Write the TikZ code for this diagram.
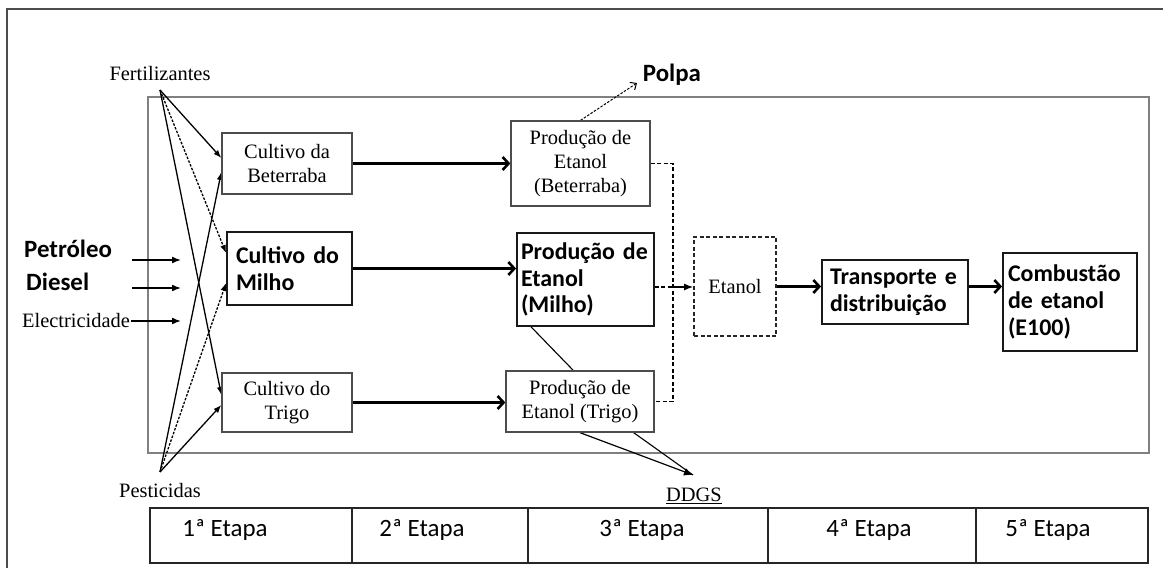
\documentclass[tikz,border=0pt]{standalone}
\usepackage{fontspec}
\setmainfont{Liberation Serif}
\newfontfamily\sansb{Carlito}
\usetikzlibrary{arrows.meta,calc}
\pgfdeclarelayer{background}
\pgfsetlayers{background,main}

\begin{document}
\begin{tikzpicture}[x=1bp,y=-1bp,
  serifbox/.style={draw=black!70, line width=1.3bp, fill=white, align=center,
    inner sep=0pt, text=black, font=\fontsize{20.5}{24}\selectfont},
  boldbox/.style={draw=black!90, line width=1.8bp, fill=white, align=left,
    inner ysep=0pt, font=\sansb\bfseries\fontsize{24}{27}\selectfont},
  seriflbl/.style={inner sep=1bp, text=black, font=\fontsize{20.5}{24}\selectfont},
  boldlbl/.style={inner sep=1bp, font=\sansb\bfseries\fontsize{25}{28}\selectfont},
  etapalbl/.style={inner sep=1bp, font=\sansb\fontsize{25}{28}\selectfont},
  cell/.style={draw=black!85, line width=1.5bp, minimum height=55bp, inner sep=0pt},
  flow/.style={line width=2.6bp, -{Straight Barb[length=6bp,width=13bp]}},
  feed/.style={line width=1.3bp, -{Latex[length=8bp,width=6bp]}},
  supply/.style={line width=1.5bp, -{Latex[length=9bp,width=7bp]}},
  collect/.style={line width=1.5bp, dash pattern=on 4bp off 2.5bp},
  fine/.style={dash pattern=on 2.5bp off 1.5bp},
]
\useasboundingbox (0,0) rectangle (1163,568);

% stage 1: crops
\node[serifbox, minimum width=130bp, minimum height=61bp] (cb) at (287,163.5) {Cultivo da\\Beterraba};
\node[boldbox, text width=107bp, inner xsep=9bp, minimum height=73bp] (cm) at (289.5,268.5) {Cultivo do\\Milho};
\node[serifbox, minimum width=130bp, minimum height=59bp] (ct) at (287,402.5) {Cultivo do\\Trigo};

% stages 2-3: ethanol plants
\node[serifbox, minimum width=139bp, minimum height=85bp] (pb) at (580.5,163.5) {Produção de\\Etanol\\(Beterraba)};
\node[boldbox, text width=129bp, inner xsep=4bp, minimum height=93bp] (pm) at (585.5,279.5) {Produção de\\Etanol\\(Milho)};
\node[serifbox, minimum width=148bp, minimum height=61bp] (pt) at (580,401.5) {Produção de\\Etanol (Trigo)};
\node[serifbox, draw=black!85, line width=1.6bp, dash pattern=on 4bp off 2.5bp,
      minimum width=82bp, minimum height=99bp] (et) at (735,286.5) {Etanol};

% stages 4-5: distribution and use
\node[boldbox, text width=130bp, inner xsep=8bp, minimum height=64bp] (tr) at (895,292) {Transporte e\\distribuição};
\node[boldbox, text width=124bp, inner xsep=5bp, minimum height=98bp] (cq) at (1070,302) {Combustão\\de etanol\\(E100)};

% inputs and by-products
\node[seriflbl] (fert) at (160,74) {Fertilizantes};
\node[seriflbl] (pest) at (160,491) {Pesticidas};
\node[boldlbl, anchor=west] (pet) at (23,249) {Petróleo};
\node[boldlbl, anchor=west] (die) at (25,282) {Diesel};
\node[seriflbl, anchor=west] (ele) at (21,321) {Electricidade};
\node[boldlbl] (polpa) at (672,75) {Polpa};
\node[seriflbl] (ddgs) at (694,496) {\underline{DDGS}};

\coordinate (fs) at (160,90);
\coordinate (ps) at (160,472);
\coordinate (pa) at (132,260);
\coordinate (da) at (132,288);
\coordinate (ein) at (181,319);
\coordinate (pp) at (637,83);
\coordinate (dd) at (693,475);
\coordinate (jn) at (673,287);

% stage table
\node[cell, minimum width=202bp] (e1) at (251,535.5) {};
\node[cell, minimum width=176bp] (e2) at (440,535.5) {};
\node[cell, minimum width=240bp] (e3) at (648,535.5) {};
\node[cell, minimum width=208bp] (e4) at (872,535.5) {};
\node[cell, minimum width=172bp] (e5) at (1062,535.5) {};
\node[etapalbl] (t1) at (225,530) {1ª Etapa};
\node[etapalbl] (t2) at (422,530) {2ª Etapa};
\node[etapalbl] (t3) at (642,530) {3ª Etapa};
\node[etapalbl] (t4) at (869,530) {4ª Etapa};
\node[etapalbl] (t5) at (1048,530) {5ª Etapa};

\begin{pgfonlayer}{background}
  % frames
  \draw[black!70, line width=1.5bp] (7,568) -- (7,9) -- (1163,9);
  \draw[black!50, line width=1.5bp] (148,97) rectangle (1149,453);

  % fertilizers and pesticides
  \draw[feed] (fs) -- ($(cb.west)+(0,-5.5)$);
  \draw[feed, fine] (fs) -- ($(cm.west)+(0,-15.5)$);
  \draw[feed] (fs) -- ($(ct.west)+(0,-7.5)$);
  \draw[feed] (ps) -- ($(cb.west)+(0,8.5)$);
  \draw[feed, fine] (ps) -- ($(cm.west)+(0,14.5)$);
  \draw[feed] (ps) -- ($(ct.west)+(0,2.5)$);

  % energy inputs
  \draw[supply] (pa) -- (pa -| ein);
  \draw[supply] (da) -- (da -| ein);
  \draw[supply] (ele.east) -- (ele.east -| ein);

  % main flow
  \draw[flow] (cb.east) -- (pb.west);
  \draw[flow] (cm.east) -- (cm.east -| pm.west);
  \draw[flow] (ct.east) -- (ct.east -| pt.west);
  \draw[collect] (pb.east) -- (pb.east -| jn) -- (jn |- pt.east) -- (pt.east);
  \draw[collect] (pm.east |- jn) -- (jn);
  \draw[supply] (jn) -- (et.west |- jn);
  \draw[flow] (et.east) -- (et.east -| tr.west);
  \draw[flow] (tr.east |- et.east) -- (et.east -| cq.west);

  % by-products
  \draw[line width=1bp, fine, -{Straight Barb[length=5bp,width=9bp]}] (pb.north) -- (pp);
  \draw[line width=1.1bp] ($(pm.south west)+(15,0)$) -- ($(pt.south east)+(-21,0)$) -- (dd);
  \draw[line width=1.2bp, -{Latex[length=9bp,width=8bp]}] (pt.south) -- (dd);
\end{pgfonlayer}
\end{tikzpicture}
\end{document}
